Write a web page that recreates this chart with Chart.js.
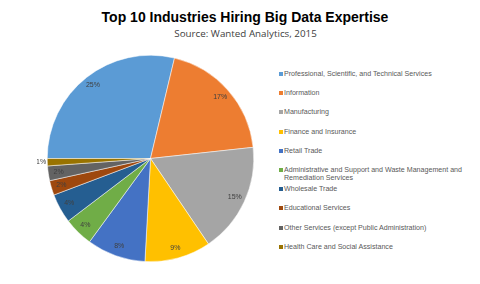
<!DOCTYPE html>
<html>
<head>
<meta charset="utf-8">
<script src="https://cdn.jsdelivr.net/npm/chart.js@4.4.0/dist/chart.umd.min.js"></script>
<style>
  html, body { margin: 0; padding: 0; background: #fff; }
  #page { position: relative; width: 480px; height: 284px; overflow: hidden; }
  #title { position: absolute; left: 0; top: 9px; width: 490px; text-align: center;
           font: bold 14px "Liberation Sans", Arial, sans-serif; color: #000; }
  #subtitle { position: absolute; left: 0; top: 27px; width: 491px; text-align: center;
              font: 9.8px "Open Sans", sans-serif; color: #404040; }
  #pieBox { position: absolute; left: 37px; top: 45px; width: 227px; height: 227px; }
  .legend-item { position: absolute; left: 279px; width: 190px;
                 font: 7.1px "Liberation Sans", Arial, sans-serif; color: #595959; line-height: 8px; }
  .legend-item span.box { position: absolute; left: 0; top: 2px; width: 4px; height: 4px; }
  .legend-item span.txt { display: block; margin-left: 5px; }
</style>
</head>
<body>
<div id="page">
  <div id="title">Top 10 Industries Hiring Big Data Expertise</div>
  <div id="subtitle">Source: Wanted Analytics, 2015</div>
  <div id="pieBox"><canvas id="pie"></canvas></div>
  <div id="legend"></div>
</div>
<script>
const industries = [
    "Professional, Scientific, and Technical Services",
    "Information",
    "Manufacturing",
    "Finance and Insurance",
    "Retail Trade",
    "Administrative and Support and Waste Management and Remediation Services",
    "Wholesale Trade",
    "Educational Services",
    "Other Services (except Public Administration)",
    "Health Care and Social Assistance"
];
const shares = [25, 17, 15, 9, 8, 4, 4, 2, 2, 1];
const colors = ["#5B9BD5", "#ED7D31", "#A5A5A5", "#FFC000", "#4472C4",
                "#70AD47", "#255E91", "#9E480E", "#636363", "#997300"];

// draws the "25%" style labels near the outer edge of each slice
const sliceLabels = {
    id: "sliceLabels",
    afterDatasetsDraw(chart) {
        const ctx = chart.ctx;
        const meta = chart.getDatasetMeta(0);
        ctx.save();
        ctx.font = "7px 'Liberation Sans', Arial, sans-serif";
        ctx.fillStyle = "#404040";
        ctx.textAlign = "center";
        ctx.textBaseline = "middle";
        meta.data.forEach((arc, i) => {
            const p = arc.getProps(["x", "y", "startAngle", "endAngle", "outerRadius"], true);
            const mid = (p.startAngle + p.endAngle) / 2;
            const small = (p.endAngle - p.startAngle) < 0.1;
            const r = p.outerRadius * (small ? 1.06 : 0.9);
            ctx.fillText(shares[i] + "%", p.x + Math.cos(mid) * r, p.y + Math.sin(mid) * r);
        });
        ctx.restore();
    }
};

const chart = new Chart(document.getElementById("pie"), {
    type: "pie",
    data: {
        labels: industries,
        datasets: [{
            data: shares,
            backgroundColor: colors,
            borderColor: "#ffffff",
            borderWidth: 0.5
        }]
    },
    options: {
        responsive: true,
        maintainAspectRatio: false,
        animation: false,
        rotation: -90,
        layout: { padding: 10 },
        plugins: {
            legend: { display: false },
            tooltip: { enabled: false }
        }
    },
    plugins: [sliceLabels]
});

// legend on the right, one row every ~19px
const legendEl = document.getElementById("legend");
industries.forEach((name, i) => {
    const item = document.createElement("div");
    item.className = "legend-item";
    item.style.top = (70 + i * 19.2) + "px";
    item.innerHTML = `<span class="box" style="background:${colors[i]}"></span><span class="txt">${name}</span>`;
    legendEl.appendChild(item);
});
</script>
</body>
</html>
